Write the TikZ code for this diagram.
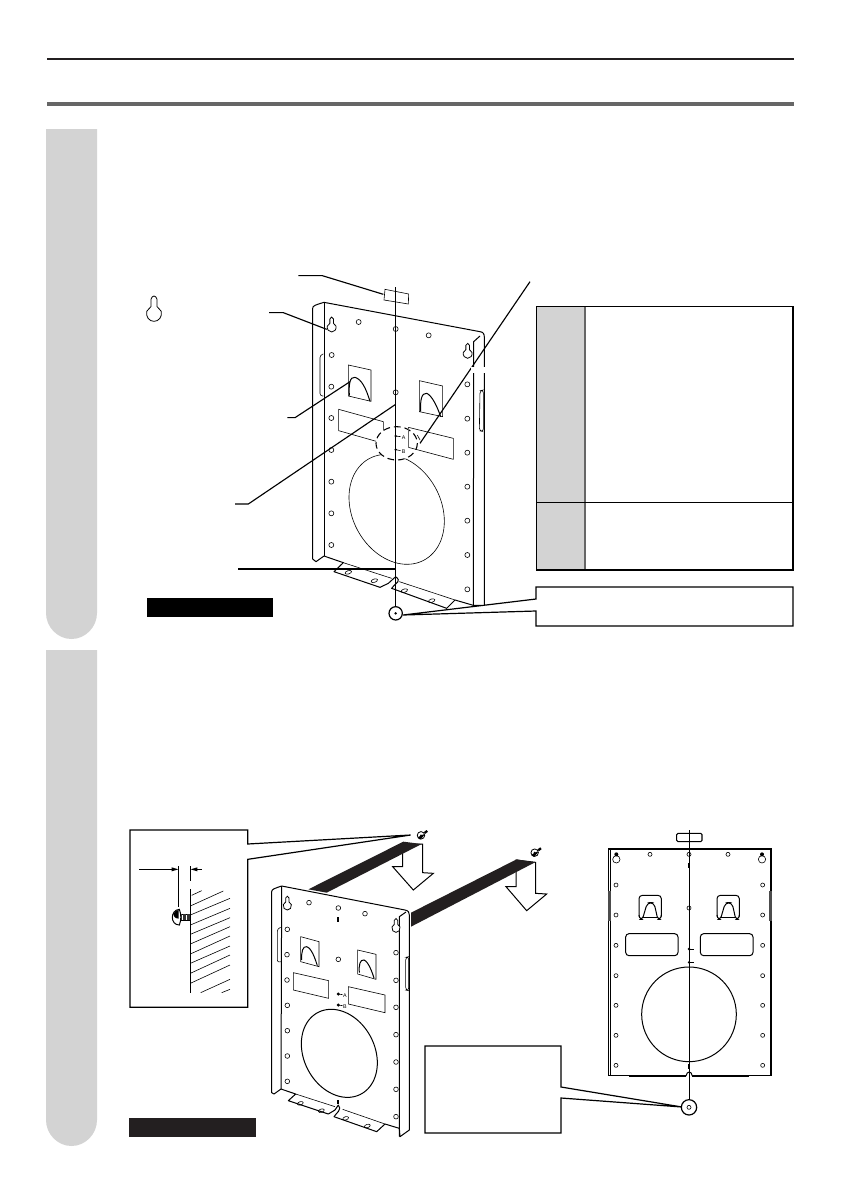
\documentclass[tikz,border=0pt]{standalone}
\usepackage{fontspec}
\setsansfont{Liberation Sans}
\definecolor{tabgray}{HTML}{D3D3D3}
\definecolor{rulegray}{HTML}{666666}
\definecolor{inkblack}{HTML}{231F20}
\tikzset{
  thinline/.style={line width=0.45pt,black},
  plateline/.style={line width=0.75pt,black},
  leaderline/.style={line width=0.85pt,black},
  boxline/.style={line width=0.9pt,black},
  steptab/.style={fill=tabgray,draw=none},
  smalllabel/.style={inner sep=0pt,font=\sffamily\fontsize{4}{4}\selectfont},
  keyhole/.pic={
    \draw[line width=0.6pt,black,fill=white] plot[smooth cycle,tension=.7] coordinates
      {(-.42,-2.0) (0,-2.45) (.42,-2.0) (.42,-1.0) (1,-.35) (.8,.6) (0,1) (-.8,.6) (-1,-.35) (-.42,-1.0)};
  },
  screwpic/.pic={
    \draw[line width=0.6pt,black,fill=white] (0,0) circle (.8);
    \fill[black] (-.7,.5) -- (-.2,.9) -- (.2,.55) -- (.7,-.1) -- (.5,-.2) -- (-.3,.2) -- cycle;
    \fill[black] (0,0) circle (.22);
    \draw[line width=1.7pt,black] (.75,-.5) -- (1.35,-.95);
  }
}
\newcommand{\holes}[2]{\foreach \hx/\hy in {#2}{\draw[thinline,fill=white] (\hx,\hy) circle (#1);}}
\begin{document}
\begin{tikzpicture}[x=0.75pt,y=-0.75pt]
\useasboundingbox (0,0) rectangle (841,1192);
\fill[white] (0,0) rectangle (841,1192);
% page rules
\fill[inkblack] (47,58) rectangle (794,60.3);
\fill[rulegray] (47,102) rectangle (794,106);
% step tabs
\path[steptab] (46,129) -- (97,129) -- (97,613) .. controls (97,627) and (85.5,639) .. (71.5,639) .. controls (57.5,639) and (46,627) .. (46,613) -- cycle;
\path[steptab] (46,650) -- (97,650) -- (97,1120) .. controls (97,1134) and (85.5,1146) .. (71.5,1146) .. controls (57.5,1146) and (46,1134) .. (46,1120) -- cycle;
% table
\fill[tabgray] (537,307) rectangle (584,570);
\draw[line width=1pt,rulegray] (585,307) -- (585,570);
\draw[boxline] (536.7,306.7) rectangle (793,570);
\draw[line width=1.4pt] (793,306.7) -- (793,570);
\draw[line width=0.7pt] (537,502) -- (793,502);
% black bars
\fill[black] (147,598) rectangle (273,617);
\fill[inkblack] (129,1118) rectangle (256,1137);
% right callout of step 1 (drawn in page px)
\coordinate (targetA) at (403,615);
\draw[boxline,fill=white] (targetA) -- (536,599) -- (536,587) -- (793,587) -- (793,626) -- (536,626) -- (536,611) -- cycle;

%==================== FIGURE 1 (zoom coordinates)
\begin{scope}[shift={(130,260)},x=0.25pt,y=-0.25pt]
\pic[scale=22] at (72,162) {keyhole};
% plate
\draw[plateline,fill=white,line join=round] (548,145) .. controls (548,137) and (556,135) .. (582,127) -- (1050,215) .. controls (1060,216) and (1063,222) .. (1063,232) -- (1063,1036) -- (1030,1036) -- (975,1020) -- (950,1045) -- (785,985) .. controls (800,965) and (815,965) .. (797,950) -- (775,970) -- (750,982) -- (612,935) -- (640,908) -- (582,888) -- (558,905) -- (548,897) -- cycle;
\draw[plateline] (582,127) -- (582,888);
\draw[plateline] (1050,228) -- (1031,245) -- (1030,1036);
\draw[thinline] (640,908) -- (785,955);
\draw[thinline] (808,965) -- (975,1020);
\draw[thinline,rounded corners=2pt] (580,282) -- (570,285) -- (570,408) -- (580,408);
\draw[thinline,rounded corners=2pt] (1050,392) -- (1060,390) -- (1060,515) -- (1048,512) -- cycle;
\holes{7.5}{686/186,896/226,605/285,604/380,604/474,604/570,604/665,604/760,604/855,1012/373,1012/476,1012/578,1012/680,1012/782,1012/885,1012/988,797/207,797/397}
\pic[scale=13] at (605,203) {keyhole};
\pic[scale=13] at (1013,282) {keyhole};
% hook windows
\draw[thinline] (655,408) -- (655,315) -- (723,330) -- (723,424) -- cycle;
\draw[plateline] (658,407) .. controls (656,370) and (660,350) .. (675,352) .. controls (695,358) and (708,385) .. (720,424);
\draw[thinline] (868,455) -- (868,362) -- (938,378) -- (938,470) -- cycle;
\draw[plateline] (872,455) .. controls (870,420) and (875,398) .. (890,400) .. controls (905,405) and (922,440) .. (932,470);
% big hole and rectangles
\draw[thinline,smooth] plot[domain=0:360,samples=90] ({800+143*cos(\x)},{748+161*sin(\x)+35.75*cos(\x)});
\draw[thinline] (626,512) -- (626,448) -- (760,485) -- (760,550) -- cycle;
\draw[line width=0.8pt,fill=white,dash pattern=on 5pt off 3pt] (800,550) ellipse (62 and 50);
\draw[line width=0.9pt,rulegray] (835,502) -- (835,562);
\draw[thinline] (835,502) -- (970,535) -- (970,598) -- (835,562);
\draw[thinline] (862,525) -- (870,540);
% centre line and marks
\draw[thinline,fill=white] (765,88) -- (836,102) -- (835,132) -- (762,120) -- cycle;
\draw[line width=0.6pt] (797,82) -- (797,1040);
\draw[line width=1pt] (797,240) -- (797,252);
\draw[line width=1pt] (797,925) -- (797,945);
\draw[thinline] (797,528) -- (812,530);
\draw[thinline] (797,569) -- (812,572);
\fill (797,528) circle (4);
\fill (797,569) circle (4);
\node[smalllabel] (la1) at (821,534) {A};
\node[smalllabel] (lb1) at (821,575) {B};
% bottom tab holes
\foreach \hx/\hy in {655/937,733/962,823/992,905/1022}{\draw[thinline,rotate around={18:(\hx,\hy)}] (\hx,\hy) ellipse (10 and 5);}
\draw[line width=0.9pt,fill=white] (797,1060) circle (20);
\fill (797,1060) circle (4);
% leaders
\draw[leaderline] (505,47) -- (577,47) -- (760,103);
\draw[leaderline] (417,158) -- (460,158) -- (590,208);
\draw[leaderline] (472,473) -- (495,473) -- (660,365);
\draw[leaderline] (315,732) -- (355,732) -- (797,433);
\draw[leaderline] (325,927) -- (797,927);
\draw[leaderline] (1200,65) -- (870,550);
\fill[white] (1024,322) rectangle (1070,340);
\end{scope}

%==================== FIGURE 2 (zoom coordinates)
\begin{scope}[shift={(120,820)},x=0.25pt,y=-0.25pt]
% detail box
\draw[boxline,fill=white] (30,30) -- (383,30) -- (383,72) -- (872,45) -- (383,118) -- (383,562) -- (30,562) -- cycle;
\draw[thinline] (58,148) -- (160,148);
\draw[thinline] (245,148) -- (226,148);
\fill (175,148) -- (155,142) -- (155,154) -- cycle;
\fill (212,148) -- (232,142) -- (232,154) -- cycle;
\draw[plateline] (175,138) -- (175,262);
\draw[plateline] (211,138) -- (211,182);
\draw[plateline] (211,208) -- (211,518);
\foreach \ax/\ay/\bx/\by in {215/226/245/212,211/258/310/213,211/285/330/235,211/315/330/265,211/343/330/293,211/372/330/320,211/402/330/348,211/430/330/378,211/460/330/405,211/490/330/435,242/518/330/478,305/518/330/508}{\draw[thinline] (\ax,\ay) -- (\bx,\by);}
% detail screw
\draw[plateline,fill=white] (178,268) .. controls (150,270) and (150,315) .. (178,315) .. controls (184,300) and (184,283) .. (178,268) -- cycle;
\fill (176,270) .. controls (155,274) and (155,294) .. (176,296) -- cycle;
\draw[thinline] (182,283) -- (211,283);
\draw[thinline] (182,300) -- (211,300);
\foreach \sx in {185,189,...,209}{\draw[line width=0.5pt,black!80] (\sx,283) -- (\sx,300);}
% white arrows
\draw[plateline,fill=white,line join=miter] (848,72) -- (848,140) -- (818,140) -- (880,210) -- (940,160) -- (908,158) -- (908,72) -- cycle;
\draw[plateline,fill=white,line join=miter] (1188,120) -- (1188,200) -- (1158,200) -- (1220,272) -- (1280,222) -- (1247,220) -- (1247,127) -- cycle;
% ribbons
\fill[inkblack] (850,65) -- (905,72) -- (620,218) -- (565,208) -- cycle;
\fill[inkblack] (1190,118) -- (1245,127) -- (873,320) -- (873,278) -- cycle;
% screws
\pic[scale=14] at (903,46) {screwpic};
\pic[scale=14] at (1244,98) {screwpic};
% plate
\draw[plateline,fill=white,line join=round] (455,215) .. controls (455,207) and (465,205) .. (485,198) -- (855,270) .. controls (866,272) and (868,278) .. (868,285) -- (868,930) -- (840,950) -- (838,925) -- (795,912) -- (770,935) -- (642,890) .. controls (648,880) and (668,868) .. (655,855) -- (645,870) -- (625,882) -- (505,842) -- (527,822) -- (483,807) -- (462,822) -- (455,818) -- cycle;
\draw[plateline] (485,198) -- (483,807);
\draw[plateline] (858,276) -- (838,290) -- (838,950);
\draw[thinline] (527,822) -- (645,860);
\draw[thinline] (668,868) -- (795,912);
\draw[thinline,rounded corners=2pt] (482,322) -- (472,326) -- (472,428) -- (482,425);
\draw[thinline,rounded corners=2pt] (857,412) -- (866,410) -- (866,512) -- (857,510) -- cycle;
\holes{7}{567/248,655/264,735/281,502/328,501/404,501/480,502/556,502/632,502/708,502/784,828/398,828/481,828/562,828/644,828/726,828/808,828/890,655/418}
\pic[scale=12] at (502,258) {keyhole};
\pic[scale=12] at (828,325) {keyhole};
\draw[thinline] (542,425) -- (542,350) -- (597,365) -- (597,440) -- cycle;
\draw[plateline] (545,420) .. controls (544,395) and (548,378) .. (560,380) .. controls (575,385) and (585,415) .. (592,437);
\draw[thinline] (713,462) -- (713,390) -- (768,403) -- (768,478) -- cycle;
\draw[plateline] (718,458) .. controls (716,435) and (720,418) .. (732,420) .. controls (745,425) and (756,455) .. (762,474);
\draw[thinline] (520,458) -- (626,482) -- (626,535) -- (520,510) -- cycle;
\draw[thinline] (685,500) -- (795,525) -- (795,578) -- (685,552) -- cycle;
\draw[plateline,smooth] plot[domain=0:360,samples=90] ({658+114*cos(\x)},{700+129*sin(\x)+28.5*cos(\x)});
\draw[line width=1.3pt] (655,292) -- (655,305);
\draw[line width=1.3pt] (655,840) -- (655,852);
\fill (655,522) circle (5);
\fill (655,555) circle (5);
\draw[thinline] (655,522) -- (668,524);
\draw[thinline] (655,555) -- (668,557);
\node[smalllabel] (la2) at (675,528) {A};
\node[smalllabel] (lb2) at (675,561) {B};
\foreach \hx/\hy in {541/850,604/872,677/895,742/918}{\draw[thinline,rotate around={18:(\hx,\hy)}] (\hx,\hy) ellipse (9 and 5);}
\end{scope}

% callout of flat plate
\coordinate (targetB) at (682,1107);
\draw[boxline,fill=white] (targetB) -- (561,1087) -- (561,1046) -- (425,1046) -- (425,1133) -- (561,1133) -- (561,1098) -- cycle;

%==================== FIGURE 3 (zoom coordinates)
\begin{scope}[shift={(590,820)},x=0.25pt,y=-0.25pt]
\draw[line width=0.8pt,fill=white] (55,87) rectangle (545,767);
\draw[thinline] (60,87) -- (60,767);
\draw[thinline] (540,87) -- (540,767);
\draw[line width=1.2pt] (118,769) -- (290,769);
\draw[line width=1.2pt] (305,769) -- (478,769);
\fill[white] (289,762) rectangle (306,772);
\draw[plateline] (288,768) .. controls (290,752) and (305,752) .. (307,768);
\draw[line width=0.8pt,rounded corners=1pt] (260,40) rectangle (336,65);
\fill[gray!60!black] (55,213) rectangle (62,302);
\fill[gray!60!black] (537,213) rectangle (545,302);
\holes{6}{180/103,297/103,414/103,78/195,518/195,78/285,518/285,78/376,518/376,78/467,518/467,78/556,518/556,78/646,518/646,78/736,518/736,297/264}
\foreach \kx in {79,516}{
  \draw[thinline] (\kx,118) circle (11);
  \fill[black] (\kx,103) circle (6);
}
\foreach \wx in {0,234}{
\begin{scope}[xshift=\wx*0.25pt]
\draw[plateline,rounded corners=2.5pt] (147,290) -- (147,226) -- (214,226) -- (214,290);
\draw[plateline,rounded corners=1.5pt] (147,285) -- (150,298) -- (157,298) -- (159,290);
\draw[plateline,rounded corners=1.5pt] (214,285) -- (211,298) -- (204,298) -- (202,290);
\draw[plateline,rounded corners=3pt] (159,292) -- (172,248) -- (192,248) -- (202,292);
\draw[line width=1.1pt] (157,292) -- (204,292);
\end{scope}}
\draw[plateline,rounded corners=2.5pt] (107,341) rectangle (264,407);
\draw[plateline,rounded corners=2.5pt] (331,341) rectangle (489,407);
\draw[plateline] (297,583) circle (142);
\draw[line width=0.7pt] (297,30) -- (297,840);
\draw[line width=1pt] (297,130) -- (297,145);
\draw[line width=1pt] (297,732) -- (297,748);
\draw[thinline] (297,387) -- (312,387);
\draw[thinline] (297,427) -- (312,427);
\fill (297,387) circle (4);
\fill (297,427) circle (4);
\draw[line width=0.9pt,fill=white] (297,862) circle (23);
\draw[thinline] (297,862) circle (6);
\end{scope}
\end{tikzpicture}
\end{document}
